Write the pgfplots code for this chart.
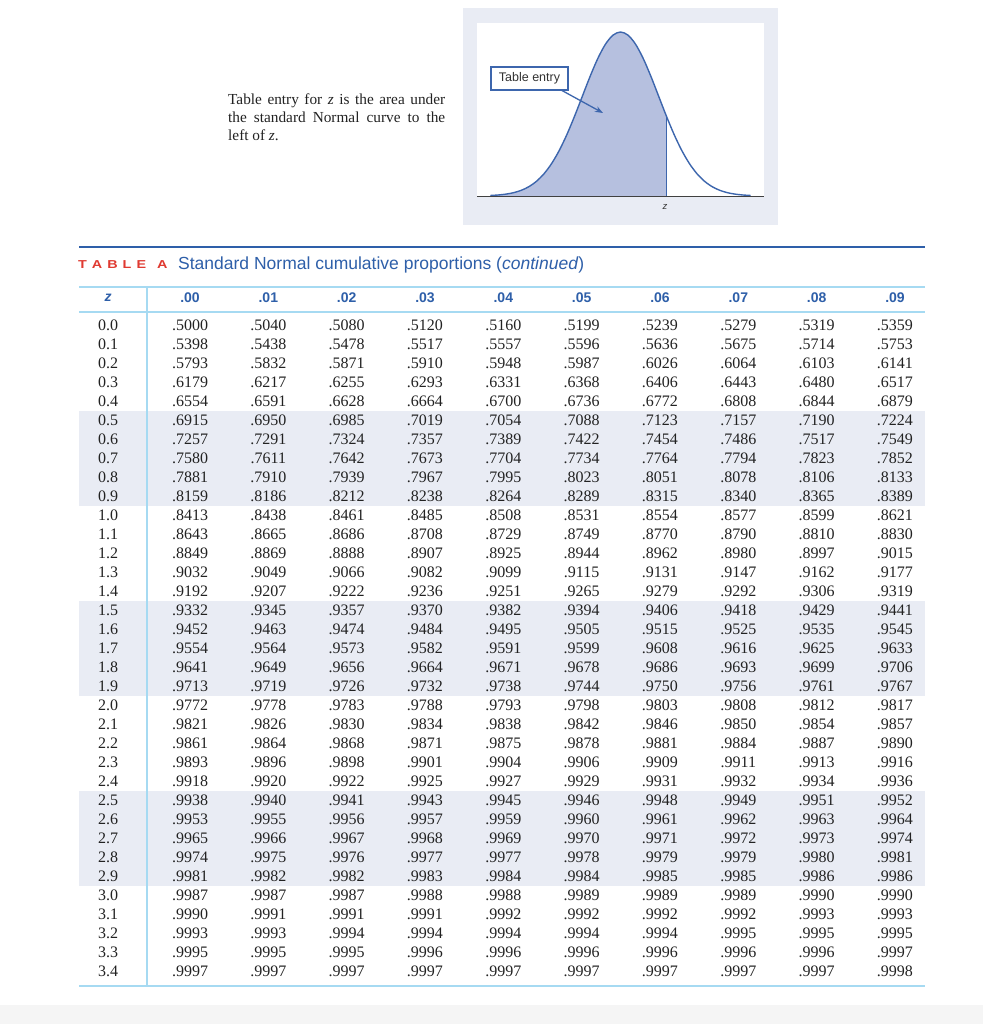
\documentclass[border=0pt]{standalone}
\usepackage{graphicx}
\usepackage{pgfplots}
\pgfplotsset{compat=1.18}
\usepackage{pgfplotstable}
\usepackage{fontspec}
\setmainfont{Liberation Serif}
\newfontfamily\hsans{Liberation Sans}
\usetikzlibrary{arrows.meta}

\definecolor{hdrblue}{HTML}{2E5FA9}
\definecolor{lineblue}{HTML}{A6DAF2}
\definecolor{rowshade}{HTML}{E9ECF4}
\definecolor{tred}{HTML}{E03A31}
\definecolor{curveblue}{HTML}{3D66AD}
\definecolor{curvefill}{HTML}{B6C0DF}
\definecolor{ink}{HTML}{222222}

% Table A, z = 0.0 ... 3.4, columns .00 ... .09
\pgfplotstableread{
z c0 c1 c2 c3 c4 c5 c6 c7 c8 c9
0.0 .5000 .5040 .5080 .5120 .5160 .5199 .5239 .5279 .5319 .5359
0.1 .5398 .5438 .5478 .5517 .5557 .5596 .5636 .5675 .5714 .5753
0.2 .5793 .5832 .5871 .5910 .5948 .5987 .6026 .6064 .6103 .6141
0.3 .6179 .6217 .6255 .6293 .6331 .6368 .6406 .6443 .6480 .6517
0.4 .6554 .6591 .6628 .6664 .6700 .6736 .6772 .6808 .6844 .6879
0.5 .6915 .6950 .6985 .7019 .7054 .7088 .7123 .7157 .7190 .7224
0.6 .7257 .7291 .7324 .7357 .7389 .7422 .7454 .7486 .7517 .7549
0.7 .7580 .7611 .7642 .7673 .7704 .7734 .7764 .7794 .7823 .7852
0.8 .7881 .7910 .7939 .7967 .7995 .8023 .8051 .8078 .8106 .8133
0.9 .8159 .8186 .8212 .8238 .8264 .8289 .8315 .8340 .8365 .8389
1.0 .8413 .8438 .8461 .8485 .8508 .8531 .8554 .8577 .8599 .8621
1.1 .8643 .8665 .8686 .8708 .8729 .8749 .8770 .8790 .8810 .8830
1.2 .8849 .8869 .8888 .8907 .8925 .8944 .8962 .8980 .8997 .9015
1.3 .9032 .9049 .9066 .9082 .9099 .9115 .9131 .9147 .9162 .9177
1.4 .9192 .9207 .9222 .9236 .9251 .9265 .9279 .9292 .9306 .9319
1.5 .9332 .9345 .9357 .9370 .9382 .9394 .9406 .9418 .9429 .9441
1.6 .9452 .9463 .9474 .9484 .9495 .9505 .9515 .9525 .9535 .9545
1.7 .9554 .9564 .9573 .9582 .9591 .9599 .9608 .9616 .9625 .9633
1.8 .9641 .9649 .9656 .9664 .9671 .9678 .9686 .9693 .9699 .9706
1.9 .9713 .9719 .9726 .9732 .9738 .9744 .9750 .9756 .9761 .9767
2.0 .9772 .9778 .9783 .9788 .9793 .9798 .9803 .9808 .9812 .9817
2.1 .9821 .9826 .9830 .9834 .9838 .9842 .9846 .9850 .9854 .9857
2.2 .9861 .9864 .9868 .9871 .9875 .9878 .9881 .9884 .9887 .9890
2.3 .9893 .9896 .9898 .9901 .9904 .9906 .9909 .9911 .9913 .9916
2.4 .9918 .9920 .9922 .9925 .9927 .9929 .9931 .9932 .9934 .9936
2.5 .9938 .9940 .9941 .9943 .9945 .9946 .9948 .9949 .9951 .9952
2.6 .9953 .9955 .9956 .9957 .9959 .9960 .9961 .9962 .9963 .9964
2.7 .9965 .9966 .9967 .9968 .9969 .9970 .9971 .9972 .9973 .9974
2.8 .9974 .9975 .9976 .9977 .9977 .9978 .9979 .9979 .9980 .9981
2.9 .9981 .9982 .9982 .9983 .9984 .9984 .9985 .9985 .9986 .9986
3.0 .9987 .9987 .9987 .9988 .9988 .9989 .9989 .9989 .9990 .9990
3.1 .9990 .9991 .9991 .9991 .9992 .9992 .9992 .9992 .9993 .9993
3.2 .9993 .9993 .9994 .9994 .9994 .9994 .9994 .9995 .9995 .9995
3.3 .9995 .9995 .9995 .9996 .9996 .9996 .9996 .9996 .9996 .9997
3.4 .9997 .9997 .9997 .9997 .9997 .9997 .9997 .9997 .9997 .9998
}\zt

\pgfplotsset{
  cell/.style={draw=none, mark=none, point meta=explicit symbolic,
    nodes near coords={\pgfplotspointmeta},
    every node near coord/.append style={anchor=center, inner sep=0pt,
      text=ink, font=\fontsize{16}{16}\selectfont}},
}

\begin{document}
\begin{tikzpicture}
\fill[white, use as bounding box] (0,0) rectangle (983pt,1024pt);

% page in pixel units, y downwards
\begin{axis}[at={(0pt,0pt)}, anchor=south west, width=983pt, height=1024pt,
  scale only axis, xmin=0, xmax=983, ymin=0, ymax=1024, y dir=reverse,
  axis lines=none, clip=false]

% figure panel
\fill[rowshade] (axis cs:463,8) rectangle (axis cs:778,225);
\fill[white] (axis cs:477,23) rectangle (axis cs:764,196);
\node[font=\fontsize{9.5}{9.5}\selectfont\hsans\itshape, text=black!80] at (axis cs:665,207) {z};

% caption
\node[anchor=base west, inner sep=0pt, text=ink, font=\fontsize{15.3}{15.3}\selectfont] at (axis cs:228,105)
  {\makebox[217pt][s]{Table entry for \textit{z} is the area under}};
\node[anchor=base west, inner sep=0pt, text=ink, font=\fontsize{15.3}{15.3}\selectfont] at (axis cs:228,123)
  {\makebox[217pt][s]{the standard Normal curve to the}};
\node[anchor=base west, inner sep=0pt, text=ink, font=\fontsize{15.3}{15.3}\selectfont] at (axis cs:228,141)
  {left of \textit{z}.};

% bottom strip
\fill[black!4] (axis cs:0,1005) rectangle (axis cs:983,1024);

% shaded row groups
\fill[rowshade] (axis cs:79,410.5) rectangle (axis cs:925,505.5);
\fill[rowshade] (axis cs:79,600.5) rectangle (axis cs:925,695.5);
\fill[rowshade] (axis cs:79,790.5) rectangle (axis cs:925,885.5);

% rules
\draw[hdrblue, line width=2.4pt] (axis cs:79,247) -- (axis cs:925,247);
\draw[lineblue, line width=1.2pt] (axis cs:79,287) -- (axis cs:925,287);
\draw[lineblue, line width=1.2pt] (axis cs:79,312) -- (axis cs:925,312);
\draw[lineblue, line width=1.2pt] (axis cs:79,986) -- (axis cs:925,986);
\draw[lineblue, line width=1.2pt] (axis cs:147,287) -- (axis cs:147,986);

% title
\node[anchor=base west, inner sep=0pt, text=tred, font=\fontsize{11.5}{11.5}\selectfont\hsans\bfseries]
  at (axis cs:78,268.5) {\scalebox{1.25}[1]{T\kern4pt A\kern4pt B\kern4pt L\kern4pt E}};
\node[anchor=base west, inner sep=0pt, text=tred, font=\fontsize{11.5}{11.5}\selectfont\hsans\bfseries]
  at (axis cs:157,268.5) {\scalebox{1.25}[1]{A}};
\node[anchor=base west, inner sep=0pt, text=hdrblue, font=\fontsize{17.5}{17.5}\selectfont\hsans]
  at (axis cs:178,269) {Standard Normal cumulative proportions (\textit{continued})};

% header row
\node[text=hdrblue, font=\fontsize{14}{14}\selectfont\hsans\bfseries\itshape] at (axis cs:108,298) {z};
\pgfplotsinvokeforeach{0,...,9}{
  \node[text=hdrblue, font=\fontsize{14}{14}\selectfont\hsans\bfseries] at (axis cs:{190+78.33*#1},298) {.0#1};
}

% body
\addplot[cell] table[x expr=108, y expr={325+19*\coordindex}, meta=z] {\zt};
\pgfplotsinvokeforeach{0,...,9}{
  \addplot[cell] table[x expr={190+78.33*#1}, y expr={325+19*\coordindex}, meta=c#1] {\zt};
}

\coordinate (boxc) at (axis cs:529.5,78.5);
\coordinate (arrA) at (axis cs:561,90);
\coordinate (arrB) at (axis cs:603,113);
\end{axis}

% normal curve
\begin{axis}[at={(477pt,828pt)}, anchor=south west, width=287pt, height=173pt,
  scale only axis, xmin=-3.75, xmax=3.75, ymin=0, ymax=1.055,
  axis lines=none, clip=false]
\addplot[fill=curvefill, draw=none, smooth] coordinates {
 (-3.4,0.0031) (-3.2,0.0060) (-3.0,0.0111) (-2.8,0.0198) (-2.6,0.0340)
 (-2.4,0.0561) (-2.2,0.0889) (-2.0,0.1353) (-1.8,0.1979) (-1.6,0.2780)
 (-1.4,0.3753) (-1.2,0.4868) (-1.0,0.6065) (-0.8,0.7261) (-0.6,0.8353)
 (-0.4,0.9231) (-0.2,0.9802) (0,1) (0.2,0.9802) (0.4,0.9231) (0.6,0.8353)
 (0.8,0.7261) (1.0,0.6065) (1.2,0.4868)} \closedcycle;
\addplot[curveblue, line width=1.4pt, smooth] coordinates {
 (-3.4,0.0031) (-3.2,0.0060) (-3.0,0.0111) (-2.8,0.0198) (-2.6,0.0340)
 (-2.4,0.0561) (-2.2,0.0889) (-2.0,0.1353) (-1.8,0.1979) (-1.6,0.2780)
 (-1.4,0.3753) (-1.2,0.4868) (-1.0,0.6065) (-0.8,0.7261) (-0.6,0.8353)
 (-0.4,0.9231) (-0.2,0.9802) (0,1) (0.2,0.9802) (0.4,0.9231) (0.6,0.8353)
 (0.8,0.7261) (1.0,0.6065) (1.2,0.4868) (1.4,0.3753) (1.6,0.2780)
 (1.8,0.1979) (2.0,0.1353) (2.2,0.0889) (2.4,0.0561) (2.6,0.0340)
 (2.8,0.0198) (3.0,0.0111) (3.2,0.0060) (3.4,0.0031)};
\addplot[curveblue, line width=1.4pt] coordinates {(1.2,0) (1.2,0.4868)};
\addplot[black!75, line width=0.9pt] coordinates {(-3.75,0) (3.75,0)};
\end{axis}

\draw[curveblue, line width=1.3pt, -{Stealth[length=8pt,width=6pt]}] (arrA) -- (arrB);
\node[draw=curveblue, line width=1.4pt, fill=white, minimum width=77pt, minimum height=23pt,
  inner sep=0pt, text=black!80, font=\fontsize{12.5}{12.5}\selectfont\hsans] at (boxc) {Table entry};
\end{tikzpicture}
\end{document}
